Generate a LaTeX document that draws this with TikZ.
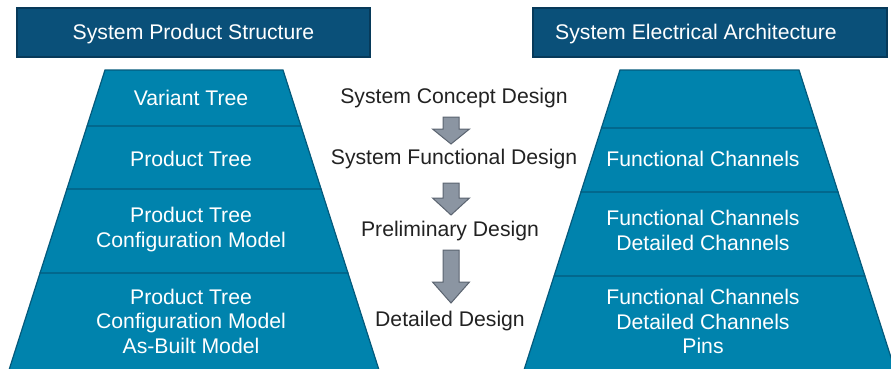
\documentclass[tikz,border=0pt]{standalone}
\usepackage{fontspec}
\setmainfont{Liberation Sans}
\definecolor{hdrfill}{HTML}{0A5079}
\definecolor{hdrline}{HTML}{073A5A}
\definecolor{tierfill}{HTML}{0083AD}
\definecolor{tierline}{HTML}{045A7C}
\definecolor{arrfill}{HTML}{8B95A2}
\definecolor{arrline}{HTML}{5B6470}
\definecolor{txtdark}{HTML}{222222}
\tikzset{
  header/.style={fill=hdrfill, draw=hdrline, line width=1.2pt},
  tier/.style={fill=tierfill, draw=tierline, line width=1.2pt},
  blockarrow/.style={fill=arrfill, draw=arrline, line width=1pt, line join=miter},
  whitetxt/.style={text=white, font=\fontsize{21.2}{24.5}\selectfont, align=center, inner sep=0pt},
  steptxt/.style={text=txtdark, font=\fontsize{21.2}{24.5}\selectfont, align=center, inner sep=0pt},
}
% tier edges of a pyramid whose top spans (l,r) at y=70, slope 0.32
\newcommand{\tierpoly}[4]{% left top x, right top x, y1, y2
  \fill[tierfill] ({#1-0.32*(#3-70)},#3) -- ({#2+0.32*(#3-70)},#3) -- ({#2+0.32*(#4-70)},#4) -- ({#1-0.32*(#4-70)},#4) -- cycle;
  \draw[tier, fill=none] ({#1-0.32*(#4-70)},#4) -- ({#1-0.32*(#3-70)},#3) -- ({#2+0.32*(#3-70)},#3) -- ({#2+0.32*(#4-70)},#4);
}
\newcommand{\downarrowshape}[3]{% top, head base, tip
  \draw[blockarrow] (443,#1) -- (459,#1) -- (459,#2) -- (469.5,#2) -- (451,#3) -- (432.5,#2) -- (443,#2) -- cycle;
}
\begin{document}
\begin{tikzpicture}[x=1pt,y=-1pt]
  \useasboundingbox (0,0) rectangle (891,368);
  \clip (0,0) rectangle (891,368);

  % headers
  \draw[header] (17,8) rectangle (370,57);
  \node[whitetxt] (hdrL) at (193.5,34) {System Product Structure};
  \draw[header] (533,8) rectangle (887,57);
  \node[whitetxt] (hdrR) at (696,34) {System Electrical Architecture};

  % left pyramid
  \tierpoly{105}{283}{70}{126}
  \tierpoly{105}{283}{126}{189}
  \tierpoly{105}{283}{189}{273}
  \tierpoly{105}{283}{273}{380}
  \node[whitetxt] (l1) at (191,98) {Variant Tree};
  \node[whitetxt] (l2) at (191,158.5) {Product Tree};
  \node[whitetxt] (l3) at (191,229.5) {Product Tree\\Configuration Model};
  \node[whitetxt] (l4) at (191,321) {Product Tree\\Configuration Model\\As-Built Model};

  % right pyramid
  \tierpoly{620}{799}{70}{128}
  \tierpoly{620}{799}{128}{192}
  \tierpoly{620}{799}{192}{276}
  \tierpoly{620}{799}{276}{380}
  \node[whitetxt] (r2) at (703,159) {Functional Channels};
  \node[whitetxt] (r3) at (703,230.5) {Functional Channels\\Detailed Channels};
  \node[whitetxt] (r4) at (703,321.5) {Functional Channels\\Detailed Channels\\Pins};

  % design steps
  \node[steptxt] (s1) at (454,98) {System Concept Design};
  \node[steptxt] (s2) at (454,159) {System Functional Design};
  \node[steptxt] (s3) at (450,231.5) {Preliminary Design};
  \node[steptxt] (s4) at (450,321.5) {Detailed Design};
  \downarrowshape{117}{129}{144}
  \downarrowshape{183}{198}{215}
  \downarrowshape{250}{282}{303}
\end{tikzpicture}
\end{document}
